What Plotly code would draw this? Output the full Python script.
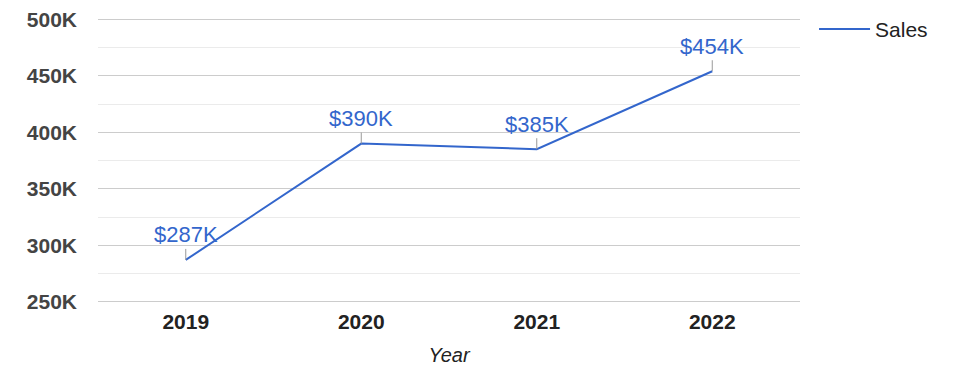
import plotly.graph_objects as go

years = ["2019", "2020", "2021", "2022"]
sales = [287000, 390000, 385000, 454000]
tick_vals = [250000, 300000, 350000, 400000, 450000, 500000]
tick_text = ["250K", "300K", "350K", "400K", "450K", "500K"]
labels = ["&#36;" + str(round(v / 1000)) + "K" for v in sales]

FONT = "Arial, Liberation Sans, sans-serif"
BLUE = "#3366cc"

fig = go.Figure()
fig.add_trace(go.Scatter(x=years, y=sales, mode="lines", name="Sales",
                         line=dict(color=BLUE, width=2), hoverinfo="skip"))

for i, (y, t) in enumerate(zip(sales, labels)):
    fig.add_annotation(x=i, y=y, xref="x", yref="y", text=t, showarrow=True,
                       arrowhead=0, arrowwidth=1, arrowcolor="#999999",
                       ax=0, ay=-25, standoff=0,
                       font=dict(family=FONT, size=22, color=BLUE))

fig.update_layout(
    width=975, height=378,
    margin=dict(l=98, r=175, t=17, b=74, autoexpand=False),
    paper_bgcolor="white", plot_bgcolor="white",
    font=dict(family=FONT, size=20, color="#222222"),
    showlegend=True,
    legend=dict(x=1.02, y=1.028, xanchor="left", yanchor="top",
                itemwidth=51, tracegroupgap=0,
                font=dict(family=FONT, size=21, color="#222222"),
                bgcolor="rgba(0,0,0,0)"),
    xaxis=dict(type="category", range=[-0.5, 3.5], showgrid=False, automargin=False,
               zeroline=False, showline=False, ticks="", ticklabelstandoff=3,
               tickfont=dict(family=FONT, size=21, color="#222222", weight="bold"),
               title=dict(text="<i>Year</i>", font=dict(family=FONT, size=20, color="#222222"),
                          standoff=15)),
    yaxis=dict(range=[248000, 502000], tickvals=tick_vals, ticktext=tick_text,
               automargin=False,
               showgrid=True, gridcolor="#cccccc", gridwidth=1, zeroline=False,
               showline=False, ticks="", ticklabelstandoff=20,
               tickfont=dict(family=FONT, size=21, color="#444444", weight="bold"),
               minor=dict(dtick=25000, tick0=250000, showgrid=True,
                          gridcolor="#ebebeb", gridwidth=1)),
)

fig.write_html("out.html", config={"displayModeBar": False},
               post_script="document.body.style.margin='0';")
